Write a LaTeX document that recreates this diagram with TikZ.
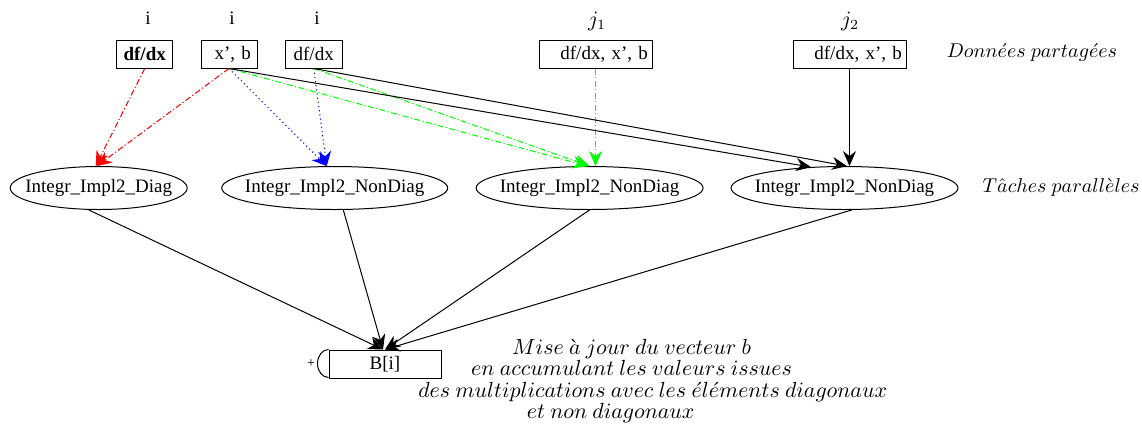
\documentclass[tikz,border=0pt]{standalone}
\usepackage{fontspec}
\setmainfont{Liberation Serif}
\usetikzlibrary{shapes.geometric,arrows.meta}
\begin{document}
\begin{tikzpicture}[x=0.5pt,y=-0.5pt,
  font=\fontsize{9.5}{11}\selectfont,
  box/.style={draw,line width=0.5pt,minimum height=14pt,inner ysep=0pt},
  task/.style={minimum height=21.5pt,inner sep=0pt},
  lbl/.style={inner sep=0pt},
  mtxt/.style={inner sep=0pt,font=\fontsize{10.6}{10.6}\selectfont},
  stxt/.style={inner sep=0pt,font=\fontsize{10.2}{11}\selectfont},
  arr/.style={line width=0.5pt,-{Stealth[length=7.5pt,width=6.5pt,inset=2.5pt]}},
  redl/.style={arr,red,dash pattern=on 3pt off 1.2pt on 0.6pt off 1.2pt},
  bluel/.style={arr,blue,dash pattern=on 0.6pt off 1.5pt},
  greenl/.style={arr,green,dash pattern=on 3pt off 1.2pt on 0.6pt off 1.2pt},
  blackl/.style={arr,black}
]
\useasboundingbox (0,0) rectangle (1142,425);

% top labels
\node[lbl] (li1) at (148,18) {i};
\node[lbl] (li2) at (232,18) {i};
\node[lbl] (li3) at (317,18) {i};
\node[mtxt] (lj1) at (597,21) {$j_1$};
\node[mtxt] (lj2) at (850,21) {$j_2$};

% data boxes
\node[box,minimum width=28pt,inner xsep=0pt] (bdf) at (144.7,54) {\textbf{df/dx}};
\node[box,text width=22pt,align=right,inner xsep=3pt] (xb) at (229,54) {x', b};
\node[box,minimum width=28.3pt,inner xsep=0pt] (df) at (313.7,54) {df/dx};
\node[box,text width=52.5pt,align=right,inner xsep=2pt] (j1b) at (595.5,54) {df/dx, x', b};
\node[box,text width=52.5pt,align=right,inner xsep=2pt] (j2b) at (849.5,54) {df/dx, x', b};
\node[stxt,anchor=base] (dp) at (1032,57.5) {$Donn\acute{e}es\ partag\acute{e}es$};

% tasks
\node[task,minimum width=88.5pt] (diag) at (98.7,188) {Integr\_Impl2\_Diag};
\node[task,minimum width=113pt] (nd1) at (334.7,188) {Integr\_Impl2\_NonDiag};
\node[task,minimum width=113.5pt] (nd2) at (589.6,188) {Integr\_Impl2\_NonDiag};
\node[task,minimum width=113.5pt] (nd3) at (844.5,188) {Integr\_Impl2\_NonDiag};
\foreach \n/\r in {diag/44.25,nd1/56.5,nd2/56.75,nd3/56.75}
  \draw[line width=0.5pt] (\n.center) ellipse [x radius=\r pt, y radius=10.75pt];
\node[stxt,anchor=base east] (tp) at (1140,192) {$T\hat{a}ches\ parall\grave{e}les$};

% result box
\node[box,minimum width=56pt,inner xsep=0pt] (B) at (385,364) {B[i]};
\draw[line width=0.5pt] (B.north west) arc[start angle=90,end angle=270,x radius=5.5pt,y radius=7pt];
\node[lbl,font=\fontsize{7}{8}\selectfont] (plus) at (311,364) {+};

% comment
\node[mtxt,align=center,anchor=north] (com) at (631.7,339) {%
  $Mise\ \grave{a}\ jour\ du\ vecteur\ b$\\
  $en\ accumulant\ les\ valeurs\ issues$\hspace*{2.2pt}\\
  \hspace*{21.1pt}$des\ multiplications\ avec\ les\ \acute{e}l\acute{e}ments\ diagonaux$\\
  $et\ non\ diagonaux$\hspace*{20.9pt}};

% top edges
\draw[redl] (bdf.south) -- ([xshift=-1.5pt]diag.north);
\draw[redl] (xb.south) -- ([xshift=-1pt]diag.north);
\draw[bluel] (xb.south) -- ([xshift=-4pt]nd1.north);
\draw[bluel] (df.south) -- ([xshift=-4pt]nd1.north);
\draw[greenl] (xb.south) -- ([xshift=-1pt]nd2.north);
\draw[greenl] (df.south) -- ([xshift=0pt]nd2.north);
\draw[greenl] (j1b.south) -- (j1b.south |- nd2.north);
\draw[blackl] (xb.south) -- ([xshift=-16.75pt,yshift=-0.5pt]nd3.north);
\draw[blackl] (df.south) -- ([xshift=1.25pt]nd3.north);
\draw[blackl] (j2b.south) -- (j2b.south |- nd3.north);

% bottom edges
\draw[blackl] ([xshift=-5pt]diag.south) -- ([xshift=-1pt]B.north);
\draw[blackl] ([xshift=4.3pt]nd1.south) -- ([xshift=-1pt]B.north);
\draw[blackl] (nd2.south) -- (B.north);
\draw[blackl] ([xshift=3.75pt]nd3.south) -- (B.north);
\end{tikzpicture}
\end{document}
